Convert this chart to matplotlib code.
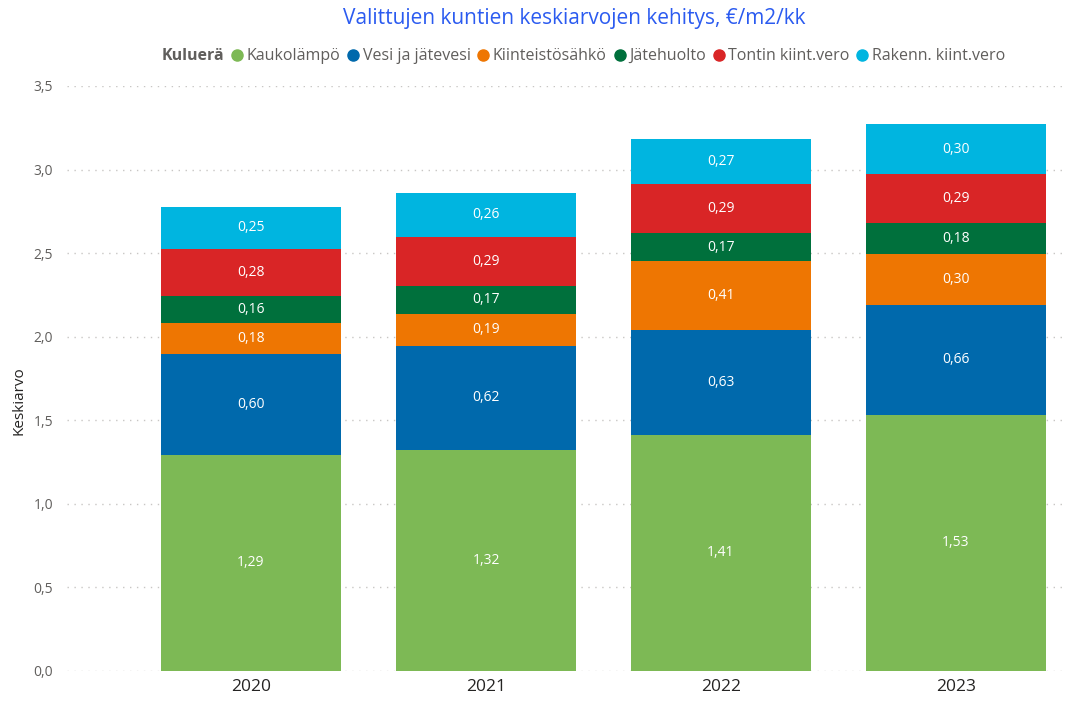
import numpy as np
import matplotlib.pyplot as plt
from matplotlib.lines import Line2D

plt.rcParams['font.family'] = ['Open Sans', 'DejaVu Sans']

# data
years = ['2020', '2021', '2022', '2023']
series = ['Kaukolämpö', 'Vesi ja jätevesi', 'Kiinteistösähkö', 'Jätehuolto',
          'Tontin kiint.vero', 'Rakenn. kiint.vero']
kaukolampo = [1.293, 1.322, 1.412, 1.534]
vesi = [0.604, 0.623, 0.627, 0.658]
sahko = [0.184, 0.191, 0.414, 0.304]
jatehuolto = [0.161, 0.168, 0.167, 0.184]
tontti = [0.283, 0.293, 0.293, 0.293]
rakennus = [0.254, 0.264, 0.270, 0.299]
colors = ['#7DB955', '#0069AC', '#EE7602', '#00703C', '#D92526', '#00B5E0']

values = [kaukolampo, vesi, sahko, jatehuolto, tontti, rakennus]

fig = plt.figure(figsize=(10.77, 7.02), dpi=100)
ax = fig.add_axes([0.0622, 0.0442, 0.9267, 0.8333])

x = np.arange(len(years))
bottom = np.zeros(len(years))
for name, vals, col in zip(series, values, colors):
    vals = np.array(vals)
    ax.bar(x, vals, width=0.766, bottom=bottom, color=col, label=name, zorder=2)
    for xi, b, v in zip(x, bottom, vals):
        ax.text(xi, b + v / 2, f'{v:.2f}'.replace('.', ','), ha='center', va='center',
                color='white', fontsize=10)
    bottom += vals

ax.set_xlim(-0.783, 3.464)
ax.set_ylim(0, 3.5)
ax.set_xticks(x)
ax.set_xticklabels(years, fontsize=12.5, color='#252423')
yt = np.arange(0, 3.51, 0.5)
ax.set_yticks(yt)
ax.set_yticklabels([f'{v:.1f}'.replace('.', ',') for v in yt], fontsize=10, color='#605E5C')
ax.tick_params(length=0)
ax.tick_params(axis='y', pad=10)
ax.tick_params(axis='x', pad=6)
for s in ax.spines.values():
    s.set_visible(False)
ax.yaxis.grid(True, linestyle=(0, (1, 4)), color='#C8C6C4', linewidth=1, zorder=0)
ax.set_axisbelow(True)
ax.set_ylabel('Keskiarvo', fontsize=11, color='#252423')
ax.yaxis.set_label_coords(-0.041, 0.463)

fig.text(0.533, 0.974, 'Valittujen kuntien keskiarvojen kehitys, €/m2/kk',
         ha='center', va='center', fontsize=15, color='#2B5BF0')

handles = [Line2D([], [], linestyle='none', marker='o', markersize=0)]
handles += [Line2D([], [], linestyle='none', marker='o', markersize=8, color=c) for c in colors]
leg = fig.legend(handles, ['Kuluerä'] + series, loc='center', bbox_to_anchor=(0.535, 0.92),
                 ncol=7, frameon=False, fontsize=11.5, handlelength=0.6, handletextpad=0.3,
                 columnspacing=0.5, labelcolor='#605E5C')
leg.get_texts()[0].set_fontweight('bold')
leg.get_texts()[0].set_color('#605E5C')

fig.savefig('out.png', dpi=100)
